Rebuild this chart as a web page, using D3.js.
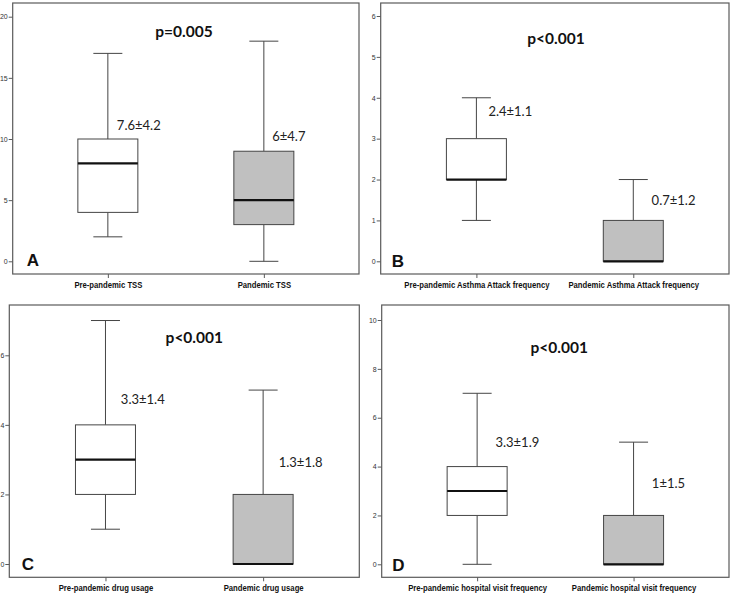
<!DOCTYPE html>
<html><head><meta charset="utf-8">
<script src="https://cdn.jsdelivr.net/npm/d3@7"></script>
<style>
html,body{margin:0;padding:0;background:#fff;}
svg{display:block;}
</style></head>
<body>
<svg id="chart" width="731" height="594"></svg>
<script>
// ---------- DATA ----------
const panelLetters = ["A", "B", "C", "D"];
const pValues = ["p=0.005", "p<0.001", "p<0.001", "p<0.001"];
const categoriesA = ["Pre-pandemic TSS", "Pandemic TSS"];
const categoriesB = ["Pre-pandemic Asthma Attack frequency", "Pandemic Asthma Attack frequency"];
const categoriesC = ["Pre-pandemic drug usage", "Pandemic drug usage"];
const categoriesD = ["Pre-pandemic hospital visit frequency", "Pandemic hospital visit frequency"];
// [min, q1, median, q3, max]
const boxA = [[2, 4, 8, 10, 17], [0, 3, 5, 9, 18]];
const boxB = [[1, 2, 2, 3, 4], [0, 0, 0, 1, 2]];
const boxC = [[1, 2, 3, 4, 7], [0, 0, 0, 2, 5]];
const boxD = [[0, 2, 3, 4, 7], [0, 0, 0, 2, 5]];
const meanSdA = ["7.6±4.2", "6±4.7"];
const meanSdB = ["2.4±1.1", "0.7±1.2"];
const meanSdC = ["3.3±1.4", "1.3±1.8"];
const meanSdD = ["3.3±1.9", "1±1.5"];
const ticksA = [0, 5, 10, 15, 20];
const ticksB = [0, 1, 2, 3, 4, 5, 6];
const ticksC = [0, 2, 4, 6];
const ticksD = [0, 2, 4, 6, 8, 10];
const yMaxA = 20, yMaxB = 6, yMaxC = 6, yMaxD = 10;

// ---------- LAYOUT ----------
const layouts = [
  {x0: 12.7, y0: 3, x1: 359, y1: 274, yTop: 16.7, yZero: 261.3, pX: 184, pY: 37,
   mean: [[9, 129.5], [8.4, 140.7]], letter: [26.7, 265.7]},
  {x0: 380.7, y0: 3, x1: 729, y1: 274, yTop: 16, yZero: 261.3, pX: 556, pY: 44,
   mean: [[12, 116], [18.3, 204.7]], letter: [391.7, 266.7]},
  {x0: 9.3, y0: 305, x1: 359.3, y1: 577.3, yTop: 355.3, yZero: 564, pX: 194.3, pY: 343.3,
   mean: [[15.4, 404.3], [15.6, 466.7]], letter: [21.7, 570]},
  {x0: 381.7, y0: 305, x1: 729, y1: 577.3, yTop: 320, yZero: 564.3, pX: 559.2, pY: 353.3,
   mean: [[18.3, 446.7], [18.3, 487.7]], letter: [392.3, 571]}
];

const panels = [
  {cats: categoriesA, boxes: boxA, means: meanSdA, ticks: ticksA, yMax: yMaxA},
  {cats: categoriesB, boxes: boxB, means: meanSdB, ticks: ticksB, yMax: yMaxB},
  {cats: categoriesC, boxes: boxC, means: meanSdC, ticks: ticksC, yMax: yMaxC},
  {cats: categoriesD, boxes: boxD, means: meanSdD, ticks: ticksD, yMax: yMaxD}
];

const svg = d3.select("#chart");
const lineCol = "#454545";
const frameCol = "#5a5a5a";
const boxW = 60, capW = 29;
const fills = ["#ffffff", "#c0c0c0"];

panels.forEach((p, i) => {
  const L = layouts[i];
  const g = svg.append("g");
  const x = d3.scalePoint().domain(p.cats).range([L.x0, L.x1]).padding(0.61);
  const y = d3.scaleLinear().domain([0, p.yMax]).range([L.yZero, L.yTop]);

  // frame
  g.append("rect").attr("x", L.x0).attr("y", L.y0)
    .attr("width", L.x1 - L.x0).attr("height", L.y1 - L.y0)
    .attr("fill", "none").attr("stroke", frameCol).attr("stroke-width", 1.2);

  // y axis
  const ya = g.append("g").attr("transform", `translate(${L.x0},0)`)
    .call(d3.axisLeft(y).tickValues(p.ticks).tickSize(4).tickPadding(1).tickFormat(d3.format("d")));
  ya.select(".domain").remove();
  ya.selectAll("line").attr("stroke", frameCol);
  ya.selectAll("text").attr("fill", "#333").style("font-family", "'Liberation Sans', Arial, sans-serif").style("font-size", "7px");

  // x axis
  const xa = g.append("g").attr("transform", `translate(0,${L.y1})`)
    .call(d3.axisBottom(x).tickSize(4).tickPadding(3));
  xa.select(".domain").remove();
  xa.selectAll("line").attr("stroke", frameCol);
  xa.selectAll("text").attr("fill", "#111")
    .attr("transform", "scale(0.82,1)")
    .style("font-family", "'Liberation Sans', Arial, sans-serif")
    .style("font-weight", "bold").style("font-size", "9.4px");

  // boxes
  p.cats.forEach((c, j) => {
    const [mn, q1, md, q3, mx] = p.boxes[j];
    const cx = x(c);
    const bg = g.append("g");
    // whiskers
    bg.append("line").attr("x1", cx).attr("x2", cx).attr("y1", y(q3)).attr("y2", y(mx)).attr("stroke", lineCol);
    bg.append("line").attr("x1", cx).attr("x2", cx).attr("y1", y(q1)).attr("y2", y(mn)).attr("stroke", lineCol);
    if (mx > q3) bg.append("line").attr("x1", cx - capW / 2).attr("x2", cx + capW / 2).attr("y1", y(mx)).attr("y2", y(mx)).attr("stroke", lineCol);
    if (mn < q1) bg.append("line").attr("x1", cx - capW / 2).attr("x2", cx + capW / 2).attr("y1", y(mn)).attr("y2", y(mn)).attr("stroke", lineCol);
    bg.append("rect").attr("x", cx - boxW / 2).attr("y", y(q3))
      .attr("width", boxW).attr("height", y(q1) - y(q3))
      .attr("fill", fills[j]).attr("stroke", lineCol).attr("stroke-width", 1);
    bg.append("line").attr("x1", cx - boxW / 2).attr("x2", cx + boxW / 2).attr("y1", y(md)).attr("y2", y(md))
      .attr("stroke", "#111").attr("stroke-width", 2.2);
    // mean ± sd
    g.append("text").attr("x", cx + L.mean[j][0]).attr("y", L.mean[j][1])
      .attr("fill", "#222").style("font-family", "Lato, 'Open Sans', sans-serif").style("font-size", "13px")
      .text(p.means[j]);
  });

  // p value
  g.append("text").attr("x", L.pX).attr("y", L.pY).attr("text-anchor", "middle")
    .attr("fill", "#111").style("font-family", "Lato, 'Open Sans', sans-serif").style("font-weight", "bold").style("font-size", "15.5px")
    .text(pValues[i]);

  // panel letter
  g.append("text").attr("x", L.letter[0]).attr("y", L.letter[1])
    .attr("fill", "#111").style("font-family", "'Liberation Sans', Arial, sans-serif").style("font-weight", "bold").style("font-size", "17px")
    .text(panelLetters[i]);
});
</script>
</body></html>
